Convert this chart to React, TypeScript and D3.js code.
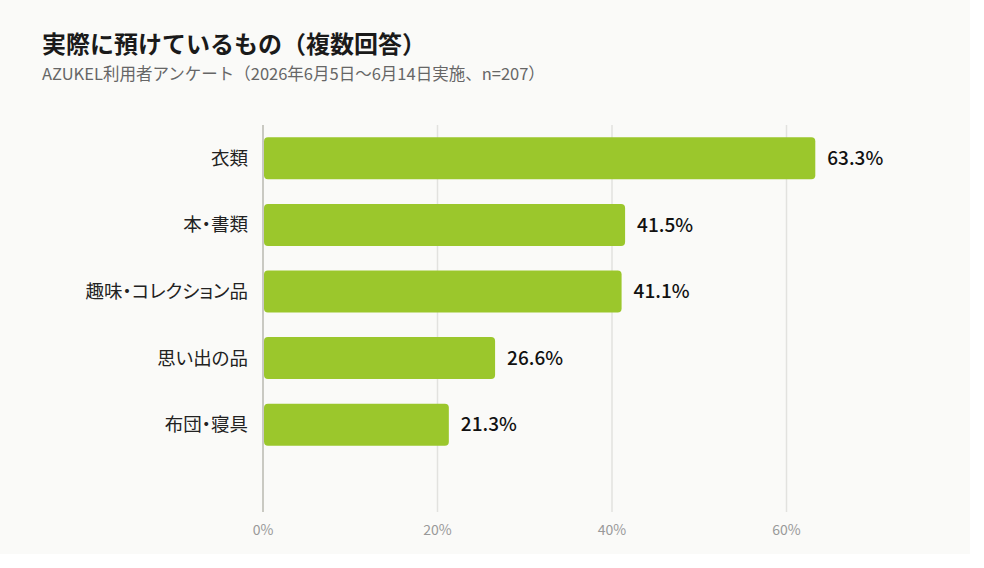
import React, { useEffect, useRef } from 'react'
import * as d3 from 'd3'

const categories = ['衣類', '本・書類', '趣味・コレクション品', '思い出の品', '布団・寝具']
const values = [63.3, 41.5, 41.1, 26.6, 21.3]
const ticks = [0, 20, 40, 60]

const title = '実際に預けているもの（複数回答）'
const subtitle = 'AZUKEL利用者アンケート（2026年6月5日〜6月14日実施、n=207）'

const W = 970
const H = 554
const FONT = '"Noto Sans CJK JP", "Noto Sans", sans-serif'

export default function App() {
  const svgRef = useRef<SVGSVGElement>(null)

  useEffect(() => {
    if (!svgRef.current) return
    const svg = d3.select(svgRef.current)
    svg.selectAll('*').remove()

    svg.append('rect').attr('width', W).attr('height', H).attr('fill', '#fafaf8')

    // header
    svg.append('text')
      .attr('x', 42).attr('y', 53)
      .style('font-family', FONT).style('font-size', '24px').style('font-weight', 700)
      .attr('fill', '#1a1a1a')
      .text(title)
    svg.append('text')
      .attr('x', 42).attr('y', 80)
      .style('font-family', FONT).style('font-size', '16.5px')
      .attr('fill', '#666')
      .text(subtitle)

    const plotTop = 125
    const plotBottom = 512

    const x = d3.scaleLinear().domain([0, 70]).range([263, 263 + 8.725 * 70])
    const y = d3.scaleBand<string>()
      .domain(categories)
      .range([plotTop, plotTop + 333])
      .paddingInner(0.37)
      .paddingOuter(0.185)

    // grid
    svg.append('g')
      .selectAll('line')
      .data(ticks.slice(1))
      .join('line')
      .attr('x1', d => x(d)).attr('x2', d => x(d))
      .attr('y1', plotTop).attr('y2', plotBottom)
      .attr('stroke', '#e2e2df').attr('stroke-width', 1.5)

    svg.append('line')
      .attr('x1', x(0)).attr('x2', x(0))
      .attr('y1', plotTop).attr('y2', plotBottom)
      .attr('stroke', '#c9c9c2').attr('stroke-width', 2)

    // tick labels
    svg.append('g')
      .selectAll('text')
      .data(ticks)
      .join('text')
      .attr('x', d => x(d)).attr('y', 535)
      .attr('text-anchor', 'middle')
      .style('font-family', FONT).style('font-size', '14px')
      .attr('fill', '#999')
      .text(d => `${d}%`)

    // bars
    svg.append('g')
      .selectAll('rect')
      .data(values)
      .join('rect')
      .attr('x', x(0) + 1)
      .attr('y', (_, i) => y(categories[i])!)
      .attr('width', d => x(d) - x(0) - 1)
      .attr('height', y.bandwidth())
      .attr('rx', 4)
      .attr('fill', '#9bc72c')

    // value labels
    svg.append('g')
      .selectAll('text')
      .data(values)
      .join('text')
      .attr('x', d => x(d) + 12)
      .attr('y', (_, i) => y(categories[i])! + y.bandwidth() / 2)
      .attr('dy', '0.35em')
      .style('font-family', FONT).style('font-size', '19px').style('font-weight', 500)
      .attr('fill', '#111')
      .text(d => `${d.toFixed(1)}%`)

    // category labels
    svg.append('g')
      .selectAll('text')
      .data(categories)
      .join('text')
      .attr('x', 248)
      .attr('y', d => y(d)! + y.bandwidth() / 2)
      .attr('dy', '0.35em')
      .attr('text-anchor', 'end')
      .style('font-family', FONT).style('font-size', '18.5px')
      .style('font-feature-settings', '"palt"')
      .attr('fill', '#222')
      .text(d => d)
  }, [])

  return (
    <svg
      ref={svgRef}
      width={W}
      height={H}
      style={{ position: 'absolute', left: 0, top: 0, display: 'block' }}
    />
  )
}
